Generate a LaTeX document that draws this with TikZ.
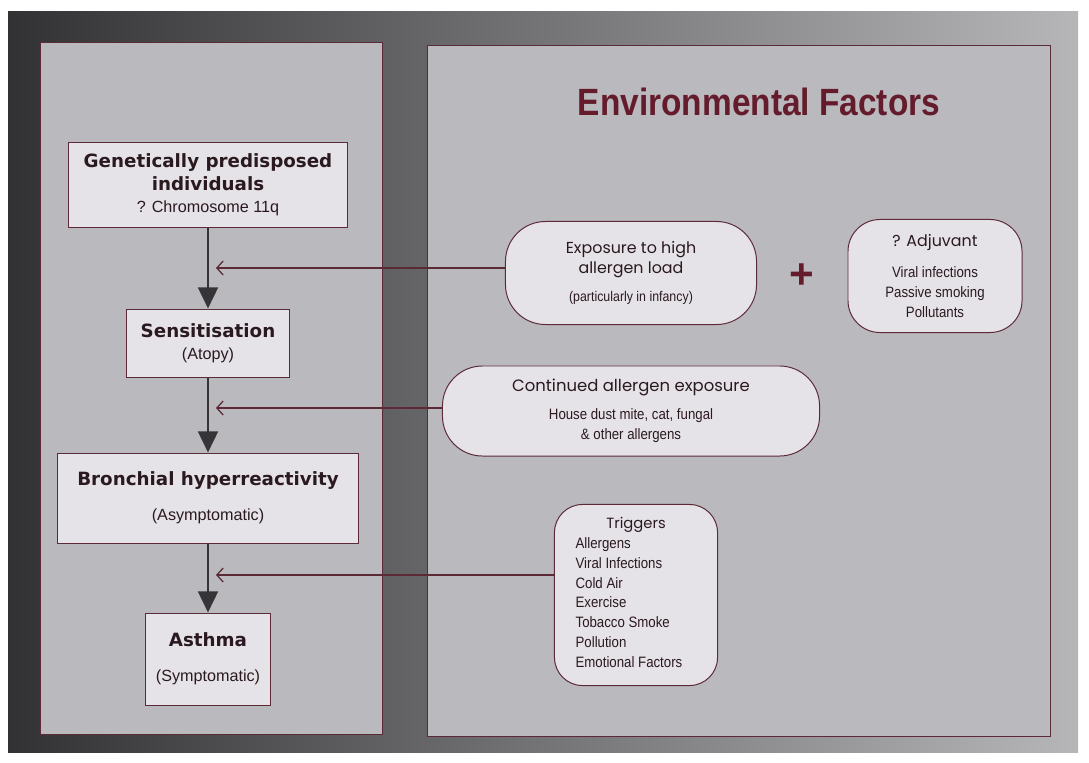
\documentclass[tikz,border=0pt]{standalone}
\usepackage{fontspec}
\setmainfont{Liberation Sans}
\newfontfamily\narrowfont{Liberation Sans}[FakeStretch=0.88]
\newfontfamily\stagefont{DejaVu Sans}
\newfontfamily\roundfont{Poppins}
\usetikzlibrary{arrows.meta, shapes.misc}

\definecolor{framedark}{RGB}{50,50,52}
\definecolor{framelight}{RGB}{182,182,184}
\definecolor{panelgray}{RGB}{186,185,190}
\definecolor{boxfill}{RGB}{229,227,231}
\definecolor{edgered}{RGB}{92,42,54}
\definecolor{titlered}{RGB}{100,28,44}
\definecolor{inkdark}{RGB}{42,26,32}
\definecolor{arrowgray}{RGB}{55,52,55}

\newcommand{\subline}{\fontspec{Liberation Sans}\mdseries\fontsize{11.5}{15}\selectfont}
\newcommand{\headline}{\roundfont\fontsize{11.3}{14}\selectfont}

\tikzset{
	panel/.style={draw=edgered, line width=0.5pt, fill=panelgray},
	stagebox/.style={draw=edgered, line width=0.7pt, fill=boxfill,
		align=center, text=inkdark, inner sep=2pt,
		font=\stagefont\bfseries\fontsize{13}{16}\selectfont},
	factorbox/.style={draw=edgered, line width=0.7pt, fill=boxfill,
		rounded corners=1cm, align=center, text=inkdark, inner sep=2pt,
		font=\narrowfont\fontsize{10.7}{14}\selectfont},
	growth/.style={-{Triangle[width=14pt,length=15pt]}, line width=2pt, draw=arrowgray},
	feed/.style={-{Straight Barb[width=10pt,length=4.5pt]}, line width=0.9pt, draw=edgered},
}

\begin{document}
\begin{tikzpicture}[x=0.025cm, y=-0.025cm]
	\useasboundingbox (0,0) rectangle (1089,762);
	\fill[white] (0,0) rectangle (1089,762);
	% dark frame and the two panels
	\shade[left color=framedark, right color=framelight] (8,12) rectangle (1078,752);
	\draw[panel] (40,42) rectangle (382,734);
	\draw[panel] (427,45) rectangle (1050,736);

	\node[text=titlered, font=\narrowfont\bfseries\fontsize{27}{30}\selectfont]
		(envtitle) at (759,102) {Environmental Factors};

	% stages
	\node[stagebox, minimum width=6.975cm, minimum height=2.125cm] (gen) at (208,185)
		{Genetically predisposed\\
		individuals\\
		\subline ? Chromosome 11q};
	\node[stagebox, minimum width=4.075cm, minimum height=1.7cm] (sens) at (208,343)
		{Sensitisation\\
		\subline (Atopy)};
	\node[stagebox, minimum width=7.5cm, minimum height=2.25cm] (bron) at (208,498)
		{Bronchial hyperreactivity\\[9pt]
		\subline (Asymptomatic)};
	\node[stagebox, minimum width=3.1cm, minimum height=2.3cm] (asth) at (208,659)
		{Asthma\\[9pt]
		\subline (Symptomatic)};

	% factors
	\node[factorbox, minimum width=6.275cm, minimum height=2.575cm] (expo) at (631,273)
		{\headline Exposure to high\\
		\headline allergen load\\[6pt]
		\fontsize{10}{13}\selectfont (particularly in infancy)};
	\node[text=titlered, font=\bfseries\fontsize{30}{30}\selectfont] (plus) at (802,276) {+};
	\node[factorbox, rounded corners=0.8cm, minimum width=4.35cm, minimum height=2.825cm] (adju) at (935,276)
		{\headline ? Adjuvant\\[8pt]
		Viral infections\\
		Passive smoking\\
		Pollutants};
	\node[factorbox, minimum width=9.425cm, minimum height=2.25cm] (cont) at (631,411)
		{\headline\fontsize{11.7}{14}\selectfont Continued allergen exposure\\[6pt]
		House dust mite, cat, fungal\\
		\& other allergens};
	\node[factorbox, rounded corners=0.7cm, minimum width=4.075cm, minimum height=4.525cm] (trig) at (636,595)
		{\headline\fontsize{10.5}{14}\selectfont Triggers\\[1pt]
		\begin{tabular}{@{}l@{}}
			Allergens\\ Viral Infections\\ Cold Air\\ Exercise\\
			Tobacco Smoke\\ Pollution\\ Emotional Factors
		\end{tabular}\hspace*{10pt}};

	% progression
	\draw[growth] (gen) -- (sens);
	\draw[growth] (sens) -- (bron);
	\draw[growth] (bron) -- (asth);

	% environmental inputs
	\coordinate (hit1) at (216,268);
	\coordinate (hit2) at (216,408);
	\coordinate (hit3) at (216,575);
	\draw[feed] (expo.west |- hit1) -- (hit1);
	\draw[feed] (cont.west |- hit2) -- (hit2);
	\draw[feed] (trig.west |- hit3) -- (hit3);
\end{tikzpicture}
\end{document}
